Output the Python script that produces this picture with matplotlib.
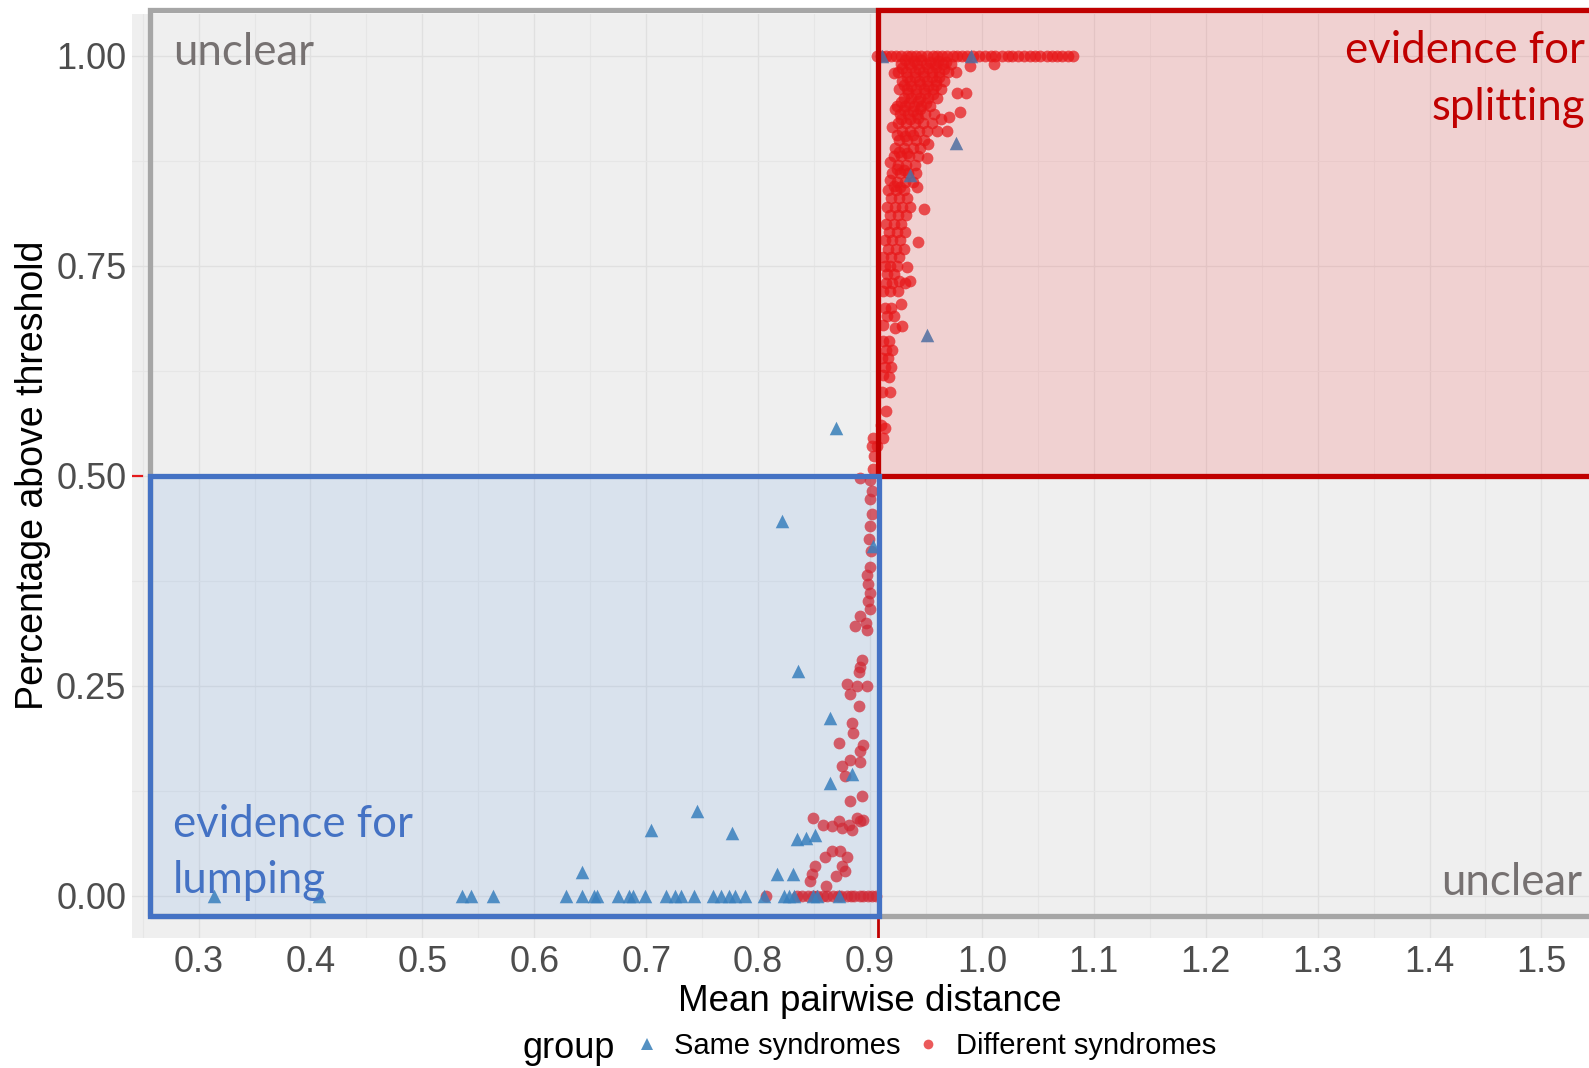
import matplotlib
matplotlib.use("Agg")
import matplotlib.pyplot as plt
from matplotlib.patches import Rectangle
from matplotlib.lines import Line2D

plt.rcParams["font.family"] = ["Liberation Sans", "DejaVu Sans"]

# ---- data ----
# Different syndromes: row at y = 1.0
diff_band_x = [0.906, 0.910, 0.914, 0.919, 0.923, 0.928, 0.933, 0.937, 0.941, 0.946,
               0.951, 0.956, 0.960, 0.964, 0.969, 0.974, 0.978, 0.982, 0.987, 0.992,
               0.997, 1.003, 1.008, 1.012, 1.018, 1.023, 1.027, 1.032, 1.038, 1.043,
               1.047, 1.052, 1.058, 1.063, 1.067, 1.072, 1.077, 1.081]

# Different syndromes: row at y = 0.0
diff_base_x = [0.807, 0.835, 0.839, 0.845, 0.849, 0.853, 0.858, 0.862, 0.867, 0.871,
               0.874, 0.879, 0.883, 0.886, 0.891, 0.894, 0.898, 0.902, 0.905]

# Different syndromes: main cluster above 0.5
diff_upper = [
    (0.928, 0.99), (0.935, 0.99), (0.942, 0.99), (0.950, 0.99), (0.958, 0.99), (0.965, 0.99),
    (0.972, 0.99), (0.989, 0.988), (1.011, 0.990),
    (0.925, 0.98), (0.932, 0.98), (0.940, 0.98), (0.947, 0.98), (0.955, 0.98), (0.962, 0.98),
    (0.970, 0.98), (0.977, 0.981), (0.921, 0.979),
    (0.929, 0.97), (0.936, 0.97), (0.944, 0.97), (0.951, 0.97), (0.959, 0.97), (0.966, 0.97),
    (0.926, 0.96), (0.933, 0.96), (0.941, 0.96), (0.948, 0.96), (0.956, 0.96), (0.963, 0.96),
    (0.978, 0.955), (0.986, 0.955),
    (0.930, 0.95), (0.937, 0.95), (0.945, 0.95), (0.952, 0.95), (0.960, 0.95),
    (0.924, 0.94), (0.931, 0.94), (0.939, 0.94), (0.946, 0.94), (0.954, 0.94), (0.922, 0.937),
    (0.927, 0.93), (0.934, 0.93), (0.942, 0.93), (0.949, 0.93), (0.957, 0.93), (0.980, 0.933),
    (0.971, 0.927), (0.963, 0.924),
    (0.925, 0.92), (0.932, 0.92), (0.940, 0.92), (0.947, 0.92), (0.955, 0.92),
    (0.920, 0.915), (0.929, 0.91), (0.936, 0.91), (0.944, 0.91), (0.951, 0.91), (0.960, 0.91),
    (0.969, 0.91),
    (0.926, 0.90), (0.933, 0.90), (0.941, 0.90), (0.948, 0.90),
    (0.922, 0.89), (0.930, 0.89), (0.938, 0.89), (0.945, 0.89), (0.952, 0.895),
    (0.921, 0.88), (0.928, 0.88), (0.935, 0.88), (0.943, 0.88), (0.951, 0.878),
    (0.918, 0.874), (0.925, 0.87), (0.932, 0.87), (0.940, 0.87),
    (0.920, 0.86), (0.927, 0.86), (0.934, 0.86), (0.941, 0.86),
    (0.918, 0.852), (0.924, 0.85), (0.931, 0.85), (0.938, 0.85),
    (0.916, 0.84), (0.923, 0.84), (0.930, 0.84), (0.942, 0.844),
    (0.919, 0.83), (0.926, 0.83), (0.933, 0.83),
    (0.915, 0.82), (0.922, 0.82), (0.929, 0.82), (0.936, 0.82), (0.948, 0.818),
    (0.918, 0.81), (0.925, 0.81), (0.932, 0.81),
    (0.914, 0.80), (0.921, 0.80), (0.928, 0.80),
    (0.917, 0.79), (0.924, 0.79), (0.931, 0.79),
    (0.913, 0.78), (0.920, 0.78), (0.927, 0.78), (0.943, 0.778),
    (0.916, 0.77), (0.923, 0.77), (0.930, 0.77),
    (0.912, 0.76), (0.919, 0.76), (0.926, 0.76),
    (0.913, 0.75), (0.918, 0.75), (0.924, 0.75), (0.933, 0.749),
    (0.915, 0.74), (0.921, 0.74),
    (0.914, 0.73), (0.920, 0.73), (0.926, 0.732), (0.931, 0.73), (0.936, 0.732),
    (0.912, 0.72), (0.918, 0.72), (0.925, 0.72),
    (0.913, 0.70), (0.919, 0.70), (0.928, 0.705),
    (0.915, 0.69), (0.921, 0.69),
    (0.912, 0.68), (0.922, 0.676), (0.929, 0.678),
    (0.912, 0.66), (0.917, 0.66),
    (0.914, 0.65), (0.920, 0.65),
    (0.911, 0.64), (0.916, 0.64),
    (0.913, 0.63), (0.919, 0.63),
    (0.912, 0.62), (0.917, 0.618),
    (0.911, 0.60), (0.918, 0.60),
    (0.914, 0.577), (0.913, 0.557), (0.910, 0.560),
]

# Different syndromes: the dense core just under y = 1
diff_core = [
    (0.931, 0.995), (0.939, 0.994), (0.946, 0.995), (0.954, 0.993), (0.961, 0.994),
    (0.968, 0.992), (0.929, 0.985), (0.937, 0.986), (0.944, 0.984), (0.952, 0.985),
    (0.959, 0.986), (0.966, 0.984), (0.933, 0.975), (0.940, 0.974), (0.948, 0.976),
    (0.955, 0.974), (0.962, 0.975), (0.930, 0.965), (0.937, 0.964), (0.945, 0.966),
    (0.952, 0.964), (0.959, 0.965), (0.934, 0.955), (0.941, 0.954), (0.949, 0.956),
    (0.956, 0.954), (0.928, 0.945), (0.935, 0.944), (0.943, 0.946), (0.950, 0.944),
    (0.930, 0.935), (0.938, 0.934), (0.945, 0.936), (0.928, 0.925), (0.936, 0.924),
    (0.943, 0.926), (0.924, 0.905), (0.931, 0.904), (0.938, 0.906), (0.926, 0.885),
    (0.933, 0.884), (0.924, 0.865), (0.930, 0.864), (0.921, 0.845), (0.927, 0.844),
]

# Different syndromes: tail below 0.56
diff_lower = [
    (0.903, 0.545), (0.912, 0.545), (0.902, 0.535), (0.906, 0.535), (0.904, 0.524),
    (0.903, 0.508), (0.891, 0.497), (0.900, 0.495), (0.902, 0.482), (0.900, 0.472),
    (0.902, 0.454), (0.900, 0.440), (0.899, 0.425), (0.901, 0.410),
    (0.900, 0.392), (0.897, 0.382), (0.898, 0.371), (0.900, 0.361), (0.898, 0.351),
    (0.900, 0.341), (0.891, 0.333), (0.896, 0.325), (0.887, 0.321), (0.897, 0.317),
    (0.893, 0.281), (0.891, 0.273), (0.890, 0.266), (0.879, 0.252), (0.888, 0.250),
    (0.897, 0.250), (0.882, 0.240), (0.890, 0.226),
    (0.884, 0.206), (0.885, 0.194), (0.872, 0.182), (0.894, 0.180), (0.891, 0.172),
    (0.882, 0.162), (0.891, 0.160), (0.875, 0.155), (0.878, 0.143),
    (0.893, 0.119), (0.882, 0.113),
    (0.849, 0.093), (0.858, 0.085), (0.866, 0.083), (0.872, 0.089), (0.875, 0.081),
    (0.881, 0.085), (0.888, 0.093), (0.891, 0.089), (0.894, 0.091), (0.884, 0.079),
    (0.866, 0.053), (0.873, 0.053), (0.860, 0.046), (0.879, 0.046), (0.851, 0.036),
    (0.875, 0.036), (0.878, 0.030), (0.848, 0.026), (0.846, 0.018), (0.870, 0.024),
    (0.861, 0.012),
]

# Same syndromes
same_pts = [
    (0.314, 0), (0.408, 0), (0.535, 0), (0.543, 0), (0.563, 0), (0.628, 0), (0.643, 0),
    (0.653, 0), (0.656, 0), (0.675, 0), (0.685, 0), (0.688, 0), (0.699, 0), (0.718, 0),
    (0.726, 0), (0.731, 0), (0.743, 0), (0.760, 0), (0.767, 0), (0.774, 0), (0.779, 0),
    (0.788, 0), (0.805, 0), (0.823, 0), (0.828, 0), (0.832, 0), (0.849, 0), (0.853, 0),
    (0.872, 0),
    (0.643, 0.028), (0.704, 0.078), (0.745, 0.101), (0.777, 0.075), (0.817, 0.026),
    (0.831, 0.026), (0.835, 0.068), (0.843, 0.069), (0.851, 0.073), (0.864, 0.135),
    (0.884, 0.145), (0.864, 0.212), (0.836, 0.268), (0.821, 0.446), (0.903, 0.416),
    (0.870, 0.557),
    (0.911, 1.0), (0.990, 1.0), (0.977, 0.896), (0.936, 0.858), (0.951, 0.668),
]

x_ticks = [0.3, 0.4, 0.5, 0.6, 0.7, 0.8, 0.9, 1.0, 1.1, 1.2, 1.3, 1.4, 1.5]
y_ticks = [0.0, 0.25, 0.5, 0.75, 1.0]
y_labels = ["0.00", "0.25", "0.50", "0.75", "1.00"]
x_cut = 0.907
y_cut = 0.5

RED = "#E41A1C"
BLUE = "#377EB8"

fig = plt.figure(figsize=(15.89, 10.68), dpi=100)
W, H = 1589, 1068
ax = fig.add_axes([132 / W, 1 - 938 / H, 1475 / W, 924.4 / H])
ax.set_facecolor("#EFEFEF")
for s in ax.spines.values():
    s.set_visible(False)

ax.set_xticks(x_ticks)
ax.set_xticklabels([f"{v:.1f}" for v in x_ticks])
ax.set_yticks(y_ticks)
ax.set_yticklabels(y_labels)
ax.set_xticks([v + 0.05 for v in [0.2] + x_ticks], minor=True)
ax.set_yticks([v + 0.125 for v in [-0.25] + y_ticks], minor=True)
ax.set_xlim(0.2405, 1.5586)
ax.set_ylim(-0.05, 1.05)
ax.grid(True, which="major", color="#E0E0E0", lw=1.0, zorder=0)
ax.grid(True, which="minor", color="#E6E6E6", lw=0.8, zorder=0)
ax.set_axisbelow(True)
ax.tick_params(which="both", length=0, labelsize=26, colors="#4D4D4D")
ax.tick_params(axis="x", pad=5)
ax.tick_params(axis="y", pad=4)
ax.set_xlabel("Mean pairwise distance", fontsize=26.5, color="black", labelpad=3)
ax.set_ylabel("Percentage above threshold", fontsize=27, color="black", labelpad=4)

# threshold lines
ax.axhline(y_cut, color=RED, lw=1.6, ls=(0, (5, 5)), zorder=1)
ax.axvline(x_cut, color="#C00000", lw=2.0, zorder=1)

# points
ux, uy = zip(*diff_upper)
cx, cy = zip(*diff_core)
lx, ly = zip(*diff_lower)
dx = list(diff_band_x) + list(ux) + list(cx) + list(lx) + list(diff_base_x)
dy = [1.0] * len(diff_band_x) + list(uy) + list(cy) + list(ly) + [0.0] * len(diff_base_x)
sx, sy = zip(*same_pts)
ax.scatter(dx, dy, s=72, marker="o", color=RED, alpha=0.72, linewidths=0, zorder=3)
ax.scatter(sx, sy, s=95, marker="^", color=BLUE, alpha=0.85, linewidths=0, zorder=4)

# annotation boxes
x_left = 0.2566
y_bot = -0.024
y_top = 1.0547
ax.add_patch(Rectangle((x_cut, y_cut), 1.0, y_top - y_cut, facecolor="#FF0000",
                       alpha=0.12, edgecolor="none", zorder=5, clip_on=False))
ax.add_patch(Rectangle((x_left, y_bot), x_cut - x_left, y_cut - y_bot,
                       facecolor="#4A8BE0", alpha=0.13, edgecolor="none", zorder=5))
ax.add_patch(Rectangle((x_left, y_bot), 1.5, y_top - y_bot, facecolor="none",
                       edgecolor="#A6A6A6", lw=3.8, zorder=6, clip_on=False))
ax.add_patch(Rectangle((x_cut, y_cut), 1.0, y_top - y_cut, facecolor="none",
                       edgecolor="#C00000", lw=3.8, zorder=7, clip_on=False))
ax.add_patch(Rectangle((x_left, y_bot), x_cut - x_left + 0.001, y_cut - y_bot,
                       facecolor="none", edgecolor="#4472C4", lw=3.8, zorder=7,
                       clip_on=False))

tf = ["Lato", "DejaVu Sans"]
fig.text(173 / W, 1 - 65 / H, "unclear", fontsize=31.5, color="#767171", family=tf,
         va="baseline", ha="left")
fig.text(1582 / W, 1 - 895 / H, "unclear", fontsize=31.5, color="#767171", family=tf,
         va="baseline", ha="right")
fig.text(1585 / W, 1 - 63 / H, "evidence for", fontsize=31.5, color="#C00000", family=tf,
         va="baseline", ha="right")
fig.text(1585 / W, 1 - 120 / H, "splitting", fontsize=31.5, color="#C00000", family=tf,
         va="baseline", ha="right")
fig.text(173 / W, 1 - 837 / H, "evidence for", fontsize=31.5, color="#4472C4", family=tf,
         va="baseline", ha="left")
fig.text(173 / W, 1 - 893 / H, "lumping", fontsize=31.5, color="#4472C4", family=tf,
         va="baseline", ha="left")

# legend
handles = [
    Line2D([], [], marker="^", ls="none", color=BLUE, alpha=0.85, markersize=9,
           markeredgewidth=0, label="Same syndromes"),
    Line2D([], [], marker="o", ls="none", color=RED, alpha=0.72, markersize=7,
           markeredgewidth=0, label="Different syndromes"),
]
fig.legend(handles=handles, loc="center", bbox_to_anchor=(927 / W, 1 - 1046 / H),
           ncol=2, frameon=False, fontsize=21, handlelength=0.6, handletextpad=0.64,
           columnspacing=0.65, borderpad=0, borderaxespad=0)
fig.text(522 / W, 1 - 1049 / H, "group", fontsize=26, va="center", ha="left")

fig.savefig("out.png", dpi=100)
